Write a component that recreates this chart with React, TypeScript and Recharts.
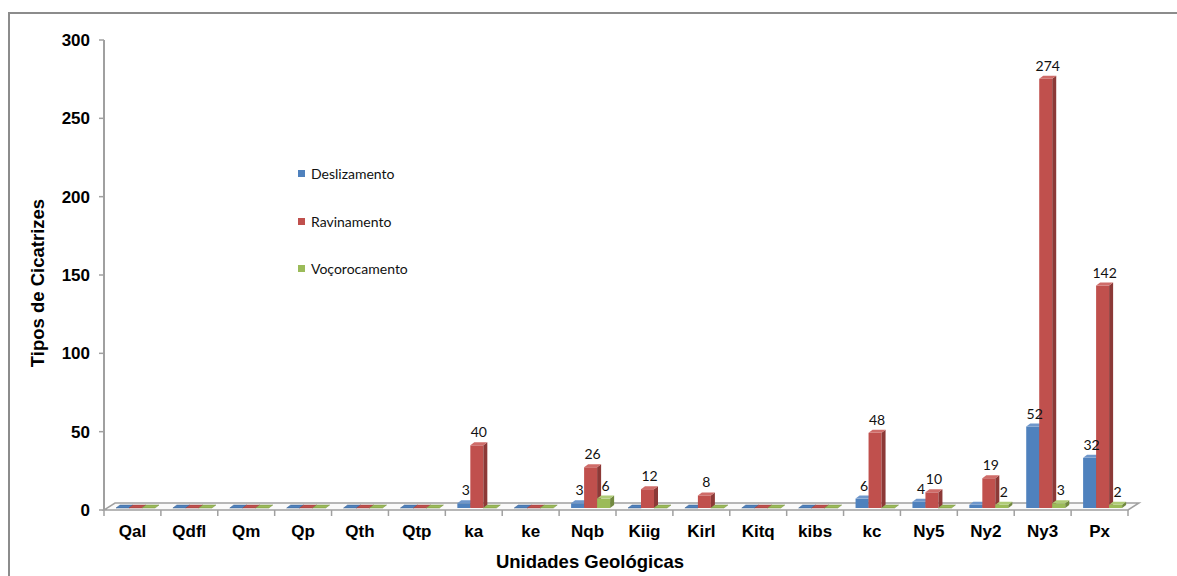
import React from 'react';
import { BarChart, Bar, XAxis, YAxis, LabelList, ReferenceArea, Label } from 'recharts';

const categories = ['Qal', 'Qdfl', 'Qm', 'Qp', 'Qth', 'Qtp', 'ka', 'ke', 'Nqb', 'Kiig', 'Kirl', 'Kitq', 'kibs', 'kc', 'Ny5', 'Ny2', 'Ny3', 'Px'];
const deslizamento = [0, 0, 0, 0, 0, 0, 3, 0, 3, 0, 0, 0, 0, 6, 4, 2, 52, 32];
const ravinamento = [0, 0, 0, 0, 0, 0, 40, 0, 26, 12, 8, 0, 0, 48, 10, 19, 274, 142];
const vocorocamento = [0, 0, 0, 0, 0, 0, 0, 0, 6, 0, 0, 0, 0, 0, 0, 2, 3, 2];
const yTicks = [0, 50, 100, 150, 200, 250, 300];
// labels Excel left out
const hiddenLabels: Record<string, string[]> = { des: ['Ny2'] };

const series = [
  { key: 'des', name: 'Deslizamento', front: '#4F81BD', side: '#385D8A', top: '#6F97CB' },
  { key: 'rav', name: 'Ravinamento', front: '#C0504D', side: '#8C3937', top: '#CF6C69' },
  { key: 'voc', name: 'Voçorocamento', front: '#9BBB59', side: '#71893F', top: '#AFCB77' },
];

const data = categories.map((c, i) => ({
  cat: c,
  des: deslizamento[i],
  rav: ravinamento[i],
  voc: vocorocamento[i],
}));

const W = 1177;
const H = 576;
const margin = { top: 40, right: 49, left: 44, bottom: 0 };
const Y_AXIS_W = 60;
const X_AXIS_H = 66;
const plotW = W - margin.left - margin.right - Y_AXIS_W;
const band = plotW / categories.length;
const DX = 4; // bar depth
const DY = 3;
const SX = 3; // bars sit in the middle of the floor
const SY = -2;
const bold = { fontFamily: '"Liberation Sans", Arial, sans-serif', fontWeight: 'bold' as const };
const axisGray = '#A0A0A0';

const makeShape = (s: any) => (props: any) => {
  const { x, y, width, height } = props;
  const x0 = x + SX;
  const y0 = y + SY;
  const w = width;
  const h = Math.max(0, height);
  const topFace = `${x0},${y0} ${x0 + w},${y0} ${x0 + w + DX},${y0 - DY} ${x0 + DX},${y0 - DY}`;
  if (h < 0.5) {
    return <polygon points={topFace} fill={s.front} stroke={s.side} strokeWidth={0.5} />;
  }
  const sideFace = `${x0 + w},${y0} ${x0 + w + DX},${y0 - DY} ${x0 + w + DX},${y0 + h - DY} ${x0 + w},${y0 + h}`;
  return (
    <g>
      <rect x={x0} y={y0} width={w} height={h} fill={s.front} />
      <polygon points={sideFace} fill={s.side} />
      <polygon points={topFace} fill={s.top} />
    </g>
  );
};

const makeLabel = (s: any) => (props: any) => {
  const { x, y, width, value, index } = props;
  if (!value) return null;
  if ((hiddenLabels[s.key] || []).includes(categories[index])) return null;
  return (
    <text
      x={x + width / 2 + SX + 2}
      y={y + SY - 8}
      textAnchor="middle"
      fontFamily="Lato, 'Open Sans', sans-serif"
      fontSize={14}
      fill="#111"
    >
      {value}
    </text>
  );
};

const Floor = (props: any) => {
  const { x, width, y, height } = props;
  const yf = y + height;
  const d = 11;
  const dv = 7;
  const pts = `${x},${yf} ${x + width},${yf} ${x + width + d},${yf - dv} ${x + d},${yf - dv}`;
  return <polygon points={pts} fill="#FAFAFA" stroke={axisGray} strokeWidth={1.5} />;
};

const XTick = (props: any) => {
  const { x, payload, index } = props;
  const yb = H - X_AXIS_H - margin.bottom;
  const left = x - band / 2;
  return (
    <g>
      <line x1={left} y1={yb} x2={left} y2={yb + 6} stroke={axisGray} strokeWidth={1.5} />
      {index === categories.length - 1 && (
        <line x1={left + band} y1={yb} x2={left + band} y2={yb + 6} stroke={axisGray} strokeWidth={1.5} />
      )}
      <text x={x} y={yb + 27} textAnchor="middle" fontSize={17} fill="#000" {...bold}>
        {payload.value}
      </text>
    </g>
  );
};

const LegendBox = () => (
  <div
    style={{
      position: 'absolute',
      left: 298,
      top: 150,
      fontFamily: 'Lato, "Open Sans", sans-serif',
      fontSize: 14,
      color: '#111',
    }}
  >
    {series.map((s) => (
      <div key={s.key} style={{ display: 'flex', alignItems: 'center', height: 47.5 }}>
        <span style={{ display: 'inline-block', width: 7, height: 7, background: s.front, marginRight: 6 }} />
        <span>{s.name}</span>
      </div>
    ))}
  </div>
);

export default function App() {
  return (
    <div style={{ position: 'fixed', left: 0, top: 0, width: W, height: H, background: '#fff', overflow: 'hidden' }}>
      <div
        style={{
          position: 'absolute',
          left: 8,
          top: 12,
          width: W,
          height: H,
          borderLeft: '2px solid #8C8C8C',
          borderTop: '2px solid #8C8C8C',
        }}
      />
      <div style={{ position: 'absolute', left: 0, top: 0 }}>
        <BarChart width={W} height={H} data={data} margin={margin} barGap={0} barSize={13}>
          <ReferenceArea y1={0} y2={4} shape={<Floor />} ifOverflow="visible" />
          <XAxis
            dataKey="cat"
            height={X_AXIS_H}
            axisLine={false}
            tickLine={false}
            interval={0}
            tick={<XTick />}
          >
            <Label
              content={(p: any) => {
                const vb = p.viewBox;
                return (
                  <text x={vb.x + vb.width / 2 - 26} y={vb.y + 58} textAnchor="middle" fontSize={18.5} fill="#000" {...bold}>
                    Unidades Geológicas
                  </text>
                );
              }}
            />
          </XAxis>
          <YAxis
            width={Y_AXIS_W}
            domain={[0, 300]}
            ticks={yTicks}
            interval={0}
            tickSize={5}
            tickMargin={9}
            axisLine={{ stroke: axisGray, strokeWidth: 2 }}
            tickLine={{ stroke: axisGray, strokeWidth: 1.5 }}
            tick={{ fontSize: 17, fill: '#000', ...bold }}
          >
            <Label
              content={(p: any) => {
                const vb = p.viewBox;
                const cx = 37;
                const cy = vb.y + vb.height / 2 + 8;
                return (
                  <text x={cx} y={cy} transform={`rotate(-90 ${cx} ${cy})`} textAnchor="middle" dominantBaseline="central" fontSize={18.5} fill="#000" {...bold}>
                    Tipos de Cicatrizes
                  </text>
                );
              }}
            />
          </YAxis>
          {series.map((s) => (
            <Bar key={s.key} dataKey={s.key} name={s.name} fill={s.front} shape={makeShape(s)} isAnimationActive={false}>
              <LabelList dataKey={s.key} content={makeLabel(s)} />
            </Bar>
          ))}
        </BarChart>
      </div>
      <LegendBox />
    </div>
  );
}
